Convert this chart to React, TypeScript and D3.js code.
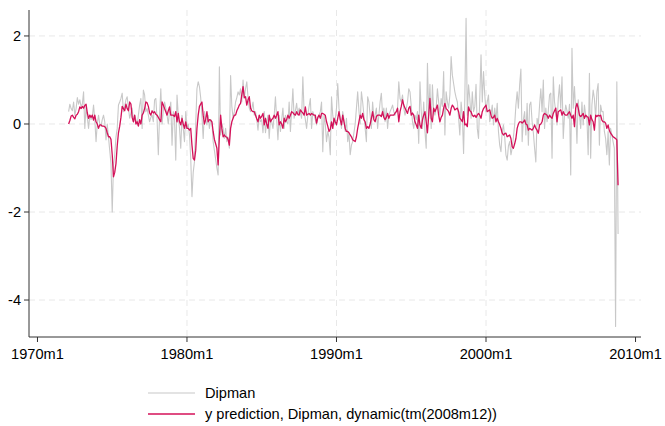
import React from 'react';
import * as d3 from 'd3';

// Monthly series starting 1972m2
const startYear = 1972;
const startMonth = 2;

const dipman: number[] = [
  0.28, 0.45, 0.35, 0.3, 0.5, 0.2, 0.35, 0.6, 0.45, 0.55,
  0.4, 0.45, 0.73, -0.1, 0.4, 0.15, -0.1, 0.2, 0.1, 0.15,
  0.43, 0.1, -0.4, 0.0, 0.2, 0.0, -0.05, 0.1, 0.2, 0.05,
  -0.36, 0.0, -0.3, -0.6, -0.9, -2.0, -0.93, -0.7, -0.3, -0.1,
  0.43, 0.5, 0.58, 0.7, 0.28, 0.4, 0.55, 0.62, 0.36, 0.13,
  0.25, 0.36, 0.05, 0.2, 0.1, -0.02, 0.2, 0.43, 0.58, -0.1,
  0.77, 0.66, 0.28, 0.35, 0.2, 0.05, 0.15, 0.2, 0.05, 0.55,
  0.58, 0.1, -0.7, 0.2, 0.8, 0.0, 0.3, 0.5, 0.36, 0.2,
  0.0, 0.3, 0.5, -0.48, 0.28, 0.1, -0.82, 0.66, 0.2, -0.1,
  -0.55, 0.2, -0.1, -0.4, 0.28, -0.1, 0.0, -0.25, -0.78, -1.65,
  -1.1, -0.86, 0.0, 0.8, 0.96, 0.85, 0.6, 0.2, -0.33, 0.28,
  0.1, -0.02, 0.2, -0.1, 0.1, 0.05, -0.4, -0.6, -0.8, -1.0,
  -1.16, 1.3, -0.25, 0.0, -0.1, -0.33, -0.1, -0.4, -0.3, -0.55,
  1.1, 0.4, 0.13, 0.28, 0.5, 0.6, 0.73, 0.66, 0.8, 0.5,
  1.0, 0.58, 0.8, 0.96, 0.6, 0.36, 0.28, 0.35, 0.5, 0.2,
  0.28, 0.1, -0.14, 0.2, 0.05, 0.1, -0.2, 0.28, -0.2, 0.05,
  0.2, -0.33, 0.13, 0.05, -0.1, 0.2, 0.62, 0.1, -0.36, 0.2,
  -0.17, 0.1, 0.36, -0.1, 0.2, 0.05, 0.0, 0.5, -0.17, 0.3,
  0.8, 0.13, 0.3, 0.47, 0.2, 0.36, 0.25, 0.13, 1.07, 0.28,
  0.1, -0.1, 0.2, 0.4, 0.58, -0.1, 0.28, 0.2, 0.1, -0.02,
  0.13, 0.2, 0.28, 0.5, -0.63, 0.2, 0.0, -0.4, -0.17, -0.3,
  -0.7, 0.62, 0.2, -0.02, 0.1, 0.36, 0.92, 0.36, 0.13, -0.1,
  0.28, 0.1, -0.17, 0.13, -0.4, -0.2, -0.7, -0.48, -0.4, -0.2,
  0.0, 0.36, 0.73, 0.3, 0.0, 0.73, 0.5, 0.2, -0.1, -0.4,
  0.62, 0.5, 0.2, -0.1, 0.5, 0.13, 0.2, 0.36, -0.1, 0.2,
  0.5, 0.7, 0.2, 0.36, 0.05, 0.36, -0.1, 0.2, 0.28, 0.35,
  0.43, 0.28, 0.2, 0.3, 0.36, 0.96, 0.58, 0.5, 0.66, 0.36,
  0.2, 0.35, 0.5, 0.8, 0.73, 0.4, 0.05, -0.1, 0.2, 0.1,
  0.28, -0.44, 0.96, 0.3, -0.1, 0.5, -0.17, -0.55, 1.38, 0.2,
  0.9, -0.1, 0.89, 0.3, 0.2, 0.36, 0.8, 0.5, 0.2, 0.58,
  0.4, 1.19, -0.25, 0.73, 0.5, 0.36, 0.66, 1.53, 1.11, 0.92,
  0.73, 0.6, 0.5, 0.13, -0.25, 0.5, 0.2, -0.67, 0.6, 2.4,
  0.2, 0.89, 0.58, 0.13, 0.73, 0.28, 0.4, 0.9, -0.1, -0.33,
  0.58, 1.57, 0.5, 1.19, 0.66, 0.28, 0.5, 0.66, 0.05, 0.2,
  0.43, -0.02, 0.36, 0.1, 0.47, -0.17, -0.48, -0.63, -0.17, -0.02,
  -0.3, -0.7, -0.82, -0.5, -0.4, -0.7, -0.55, -0.3, -0.02, 0.43,
  0.73, 0.36, 0.89, 1.25, -0.4, 0.1, 0.28, -0.25, 0.47, -0.48,
  0.43, 0.5, 0.05, -0.2, -0.55, -0.86, 0.13, -0.02, 0.43, 0.8,
  0.28, 1.0, -0.1, 0.36, 0.05, 0.3, 0.66, 0.7, -0.78, 1.07,
  0.5, 0.28, -0.02, 0.58, 0.89, 0.36, 1.07, -0.33, 0.2, 0.43,
  0.3, 0.13, 0.45, -1.16, 1.72, 0.36, 0.85, 0.28, -0.44, 0.55,
  0.2, -0.1, 0.5, -0.02, 0.43, 0.2, 0.13, -0.7, 1.15, -0.78,
  0.43, 0.77, 0.58, 0.13, 0.73, 0.92, -0.48, 0.43, 0.28, 0.28,
  -0.17, -0.33, -0.7, -0.17, -0.93, -0.1, -0.25, -0.4, -0.55, -4.6,
  0.96, -2.5,
];

const prediction: number[] = [
  0.0, 0.08, 0.18, 0.2, 0.15, 0.12, 0.2, 0.22, 0.28, 0.39,
  0.35, 0.4, 0.36, 0.42, 0.45, 0.25, 0.13, 0.2, 0.15, 0.2,
  0.09, 0.2, 0.05, 0.0, -0.1, -0.02, -0.02, -0.05, -0.05, -0.06,
  -0.1, -0.2, -0.29, -0.29, -0.35, -0.7, -1.2, -1.1, -0.9, -0.5,
  -0.2, -0.05, 0.15, 0.4, 0.35, 0.3, 0.45, 0.35, 0.3, 0.5,
  0.45, 0.15, 0.05, 0.2, 0.0, 0.05, -0.05, 0.1, 0.0, 0.2,
  0.25, 0.35, 0.5, 0.48, 0.4, 0.25, 0.2, 0.3, 0.25, 0.28,
  0.22, 0.2, 0.15, 0.1, 0.05, 0.5, 0.43, 0.35, 0.28, 0.2,
  0.3, 0.39, 0.2, 0.2, 0.2, 0.17, 0.28, 0.05, 0.24, 0.05,
  -0.02, 0.13, 0.0, -0.1, 0.05, -0.1, -0.1, -0.14, -0.1, -0.48,
  -0.78, -0.82, -0.6, -0.1, 0.2, 0.4, 0.45, 0.5, 0.2, 0.0,
  0.1, 0.28, 0.05, 0.1, 0.09, 0.05, -0.17, -0.35, -0.45, -0.55,
  -0.93, -0.3, 0.2, -0.1, -0.29, -0.25, -0.29, -0.3, -0.35, -0.48,
  -0.1, 0.05, 0.13, 0.2, 0.2, 0.3, 0.36, 0.43, 0.47, 0.66,
  0.85, 0.6, 0.62, 0.43, 0.55, 0.62, 0.36, 0.3, 0.28, 0.28,
  0.2, 0.12, 0.05, 0.2, 0.13, 0.18, 0.24, -0.02, 0.13, 0.0,
  -0.1, 0.2, 0.05, 0.1, 0.13, 0.2, 0.13, 0.2, 0.28, -0.02,
  0.05, 0.0, -0.1, 0.13, 0.05, 0.1, 0.2, 0.13, 0.2, 0.28,
  0.26, 0.22, 0.2, 0.28, 0.22, 0.2, 0.32, 0.28, 0.25, 0.2,
  0.39, 0.2, 0.22, 0.24, 0.2, 0.24, 0.22, 0.2, 0.2, 0.02,
  0.15, 0.2, 0.13, 0.24, 0.24, 0.22, 0.2, 0.05, -0.05, -0.17,
  -0.12, 0.05, -0.1, 0.13, 0.05, -0.02, 0.13, 0.28, 0.1, -0.02,
  0.2, 0.05, -0.1, -0.17, -0.17, -0.2, -0.25, -0.29, -0.36, -0.38,
  -0.4, -0.29, -0.1, 0.05, 0.2, 0.13, 0.24, 0.1, 0.05, -0.1,
  -0.06, -0.1, 0.0, 0.13, 0.28, 0.1, 0.05, 0.17, 0.2, 0.2,
  0.2, 0.17, 0.28, 0.15, 0.1, 0.15, 0.24, 0.13, 0.2, 0.2,
  0.2, 0.2, 0.25, 0.28, 0.36, 0.05, 0.28, 0.4, 0.55, 0.43,
  0.36, 0.3, 0.24, 0.36, 0.4, 0.2, 0.25, 0.2, 0.05, -0.02,
  -0.1, 0.2, -0.02, -0.1, 0.1, 0.2, 0.28, 0.05, -0.2, 0.2,
  0.58, 0.13, 0.05, 0.36, 0.28, 0.35, 0.43, 0.2, 0.05, 0.15,
  0.2, 0.36, 0.47, 0.35, 0.32, 0.28, 0.2, 0.35, 0.43, 0.39,
  0.32, 0.34, 0.36, 0.28, 0.13, 0.1, 0.05, 0.28, -0.02, 0.0,
  -0.06, 0.39, 0.3, 0.28, 0.2, 0.17, 0.2, 0.15, 0.2, 0.24,
  0.2, 0.13, 0.28, 0.35, 0.39, 0.43, 0.28, 0.3, 0.32, 0.2,
  0.13, 0.15, 0.2, 0.05, 0.13, 0.05, -0.02, -0.1, -0.21, -0.25,
  -0.22, -0.21, -0.29, -0.27, -0.25, -0.33, -0.52, -0.55, -0.45, -0.33,
  -0.1, 0.0, 0.05, 0.05, 0.02, 0.05, 0.09, 0.0, -0.02, -0.14,
  -0.1, -0.12, -0.14, -0.1, -0.02, -0.1, -0.14, -0.21, -0.02, 0.0,
  0.05, 0.2, 0.24, 0.22, 0.2, 0.13, 0.2, 0.16, 0.13, 0.24,
  0.3, 0.36, 0.05, 0.28, 0.3, 0.32, 0.2, 0.28, 0.22, 0.2,
  0.2, 0.24, 0.28, 0.2, 0.13, 0.2, -0.06, 0.36, 0.47, 0.36,
  0.2, 0.17, 0.2, 0.24, 0.13, 0.2, 0.17, 0.15, -0.02, 0.2,
  0.1, 0.05, -0.14, 0.2, 0.17, 0.2, 0.18, 0.2, 0.09, 0.05,
  0.05, 0.02, -0.1, -0.02, -0.15, -0.21, -0.25, -0.29, -0.31, -0.33,
  -0.36, -1.39,
];

const yTickValues = [-4, -2, 0, 2];
const xTickYears = [1970, 1980, 1990, 2000, 2010];
const seriesLabels = ['Dipman', 'y prediction, Dipman, dynamic(tm(2008m12))'];
const seriesColors = ['#c8c8c8', '#d41159'];

const W = 665;
const H = 426;
const FONT = 'Liberation Sans, Arial, Helvetica, sans-serif';
const FS = 14.6;

// months since 1970m1
const monthIndex = (i: number) => (startYear - 1970) * 12 + (startMonth - 1) + i;

export default function App() {
  const x = d3.scaleLinear().domain([-6.8, 484.4]).range([29, 641]);
  const y = d3.scaleLinear().domain([-4.84, 2.59]).range([337, 10]);

  const line = d3
    .line<number>()
    .x((_, i) => x(monthIndex(i)))
    .y((d) => y(d));

  const gridX = xTickYears.filter((yr) => yr > 1970 && yr < 2010);
  const plotLeft = 29;
  const plotRight = 641;
  const plotTop = 10;
  const plotBottom = 337;

  return (
    <div style={{ position: 'fixed', left: 0, top: 0, width: W, height: H, background: '#fff' }}>
      <svg width={W} height={H} style={{ display: 'block' }} fontFamily={FONT}>
        <rect x={0} y={0} width={W} height={H} fill="#ffffff" />
        {/* gridlines */}
        {yTickValues.map((v) => (
          <line
            key={'gy' + v}
            x1={plotLeft}
            x2={plotRight}
            y1={y(v)}
            y2={y(v)}
            stroke="#e8e8e8"
            strokeWidth={1}
            strokeDasharray="6,4"
          />
        ))}
        {gridX.map((yr) => (
          <line
            key={'gx' + yr}
            x1={x((yr - 1970) * 12)}
            x2={x((yr - 1970) * 12)}
            y1={plotTop}
            y2={plotBottom}
            stroke="#e8e8e8"
            strokeWidth={1}
            strokeDasharray="6,4"
          />
        ))}
        {/* series */}
        <path d={line(dipman) || ''} fill="none" stroke={seriesColors[0]} strokeWidth={1.1} strokeLinejoin="round" />
        <path d={line(prediction) || ''} fill="none" stroke={seriesColors[1]} strokeWidth={1.3} strokeLinejoin="round" />
        {/* axes */}
        <line x1={plotLeft} x2={plotLeft} y1={plotTop} y2={plotBottom} stroke="#333" strokeWidth={1} />
        <line x1={plotLeft} x2={plotRight} y1={plotBottom} y2={plotBottom} stroke="#333" strokeWidth={1} />
        {yTickValues.map((v) => (
          <g key={'ty' + v}>
            <line x1={plotLeft - 5} x2={plotLeft} y1={y(v)} y2={y(v)} stroke="#333" strokeWidth={1} />
            <text x={plotLeft - 8} y={y(v)} dy="0.35em" textAnchor="end" fontSize={FS} fill="#000">
              {v < 0 ? '-' + Math.abs(v) : String(v)}
            </text>
          </g>
        ))}
        {xTickYears.map((yr) => (
          <g key={'tx' + yr}>
            <line
              x1={x((yr - 1970) * 12)}
              x2={x((yr - 1970) * 12)}
              y1={plotBottom}
              y2={plotBottom + 5}
              stroke="#333"
              strokeWidth={1}
            />
            <text x={x((yr - 1970) * 12)} y={plotBottom + 22} textAnchor="middle" fontSize={FS} fill="#000">
              {yr + 'm1'}
            </text>
          </g>
        ))}
        {/* legend */}
        {seriesLabels.map((lab, k) => (
          <g key={'lg' + k}>
            <line
              x1={148}
              x2={195}
              y1={393 + k * 21}
              y2={393 + k * 21}
              stroke={seriesColors[k]}
              strokeWidth={k === 0 ? 1.1 : 1.3}
            />
            <text x={205} y={393 + k * 21} dy="0.35em" fontSize={FS} fill="#000">
              {lab}
            </text>
          </g>
        ))}
      </svg>
    </div>
  );
}
